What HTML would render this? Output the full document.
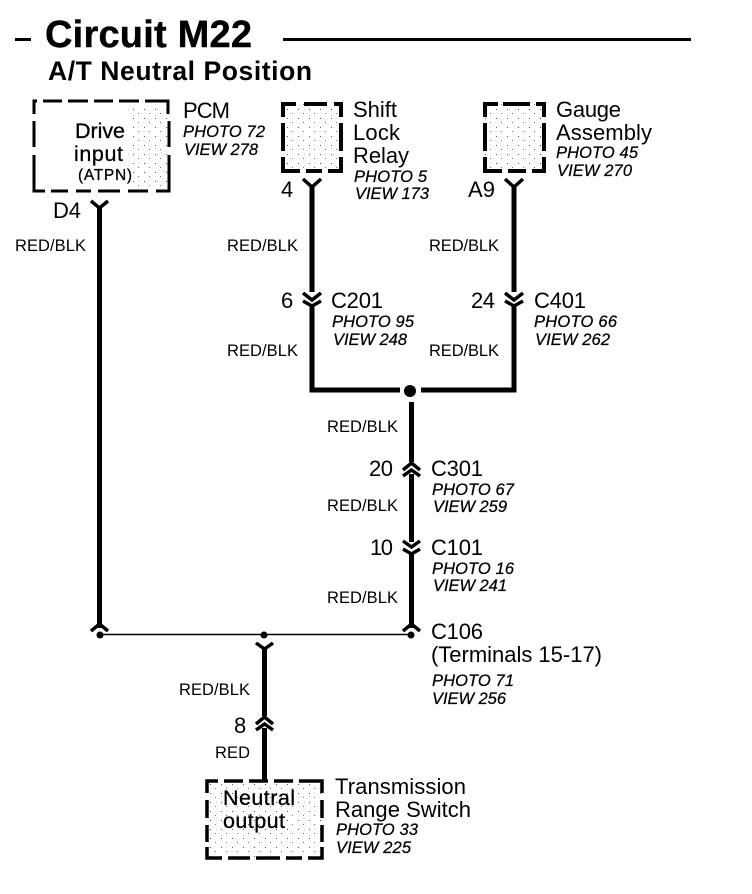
<!DOCTYPE html>
<html>
<head>
<meta charset="utf-8">
<style>
html,body{margin:0;padding:0;background:#fff}
svg{display:block}
text{font-family:"Liberation Sans",sans-serif;fill:#000}
.l{font-size:22px}
.i{font-size:16.5px;font-style:italic;stroke:#000;stroke-width:.25px}
.w{font-size:16.5px}
.s{font-size:21.5px;stroke:#000;stroke-width:.3px}
</style>
</head>
<body>
<svg width="752" height="894" viewBox="0 0 752 894" xmlns="http://www.w3.org/2000/svg">
<defs>
<pattern id="st" width="11" height="9" patternUnits="userSpaceOnUse">
<rect width="1" height="1" x="1" y="1" fill="#555"/>
<rect width="1" height="1" x="6" y="5" fill="#777"/>
</pattern>
</defs>

<!-- Title -->
<rect x="15" y="38" width="16" height="3"/>
<rect x="283" y="38" width="408" height="3"/>
<text x="45" y="47" font-size="38" font-weight="bold" textLength="207" stroke="#000" stroke-width=".4">Circuit M22</text>
<text x="48" y="80" font-size="26.5" font-weight="bold" textLength="264">A/T Neutral Position</text>

<!-- Boxes -->
<rect x="130" y="105" width="39" height="85" fill="url(#st)"/>
<path d="M34 114V101H37M43 101H62M68 101H88M94 101H113M119 101H139M145 101H168V114M34 121V147M169 121V147M34 155V191H45M51 191H68M76 191H91M98 191H120M128 191H148M156 191H169V155" fill="none" stroke="#000" stroke-width="3"/>
<rect x="283" y="104" width="58" height="67" fill="url(#st)"/>
<path d="M283 117V104H296M304 104H327M334 104H341V117M283 123V151M341 123V151M283 157V171H300M306 171H322M328 171H341V157" fill="none" stroke="#000" stroke-width="4"/>
<rect x="485" y="104" width="59" height="67" fill="url(#st)"/>
<path d="M485 117V104H498M503 104H530M536 104H544V117M485 123V151M544 123V151M485 157V171H502M508 171H526M532 171H544V157" fill="none" stroke="#000" stroke-width="4"/>
<rect x="207" y="781" width="115" height="77" fill="url(#st)"/>
<path d="M207 793V781H218M224 781H243M249 781H268M274 781H293M299 781H322V793M207 800V818M322 800V818M207 825V842M322 825V842M207 847V858H222M228 858H250M256 858H280M286 858H302M308 858H322V847" fill="none" stroke="#000" stroke-width="3.500"/>

<!-- Wires -->
<g fill="none" stroke="#000" stroke-linejoin="miter">
<path d="M99.500 206V628" stroke-width="5"/>
<path d="M312 186V292M312 304V390H400M421 390H514V304M514 292V186" stroke-width="5"/>
<path d="M411.500 402V462M411.500 474V542M411.500 553V628" stroke-width="5"/>
<path d="M264.500 648V716M264.500 728V782" stroke-width="5"/>
<path d="M99 634.500H411" stroke-width="1.600"/>
</g>
<circle cx="410" cy="391" r="6"/>
<circle cx="100" cy="635" r="3.500"/>
<circle cx="264" cy="635" r="3.500"/>
<circle cx="411" cy="635" r="3.500"/>

<!-- Connector chevrons -->
<g fill="none" stroke="#000" stroke-width="3.500">
<path d="M91 201L99.500 208L108 201"/>
<path d="M303 179L312 187L321 179"/>
<path d="M505 179L514 187L523 179"/>
<path d="M303 293L312 300L321 293"/>
<path d="M303 301L312 306L321 301"/>
<path d="M505 293L514 300L523 293"/>
<path d="M505 301L514 306L523 301"/>
<path d="M403 470L411.500 463L420 470"/>
<path d="M403 476L411.500 470L420 476"/>
<path d="M403 541L411.500 547L420 541"/>
<path d="M403 549L411.500 554L420 549"/>
<path d="M91 631L99.500 624L108 631"/>
<path d="M403 631L411.500 624L420 631"/>
<path d="M256 643L264.500 649L273 643"/>
<path d="M256 724L264.500 717L273 724"/>
<path d="M256 730L264.500 724L273 730"/>
</g>

<!-- Box labels -->
<text class="s" x="75" y="138" textLength="50">Drive</text>
<text class="s" x="74" y="161" textLength="49">input</text>
<text x="78" y="180" font-size="15.500" stroke="#000" stroke-width=".3" textLength="54">(ATPN)</text>
<text class="s" x="223" y="805" textLength="72">Neutral</text>
<text class="s" x="223" y="828" textLength="62">output</text>

<!-- Component names -->
<text class="l" x="183" y="118" textLength="47">PCM</text>
<text class="i" x="183" y="137" textLength="82">PHOTO 72</text>
<text class="i" x="184" y="155" textLength="74">VIEW 278</text>

<text class="l" x="353" y="117" textLength="44">Shift</text>
<text class="l" x="353" y="140" textLength="47">Lock</text>
<text class="l" x="353" y="163" textLength="56">Relay</text>
<text class="i" x="354" y="182" textLength="73">PHOTO 5</text>
<text class="i" x="355" y="199" textLength="74">VIEW 173</text>

<text class="l" x="556" y="117" textLength="65">Gauge</text>
<text class="l" x="556" y="140" textLength="96">Assembly</text>
<text class="i" x="556" y="158" textLength="82">PHOTO 45</text>
<text class="i" x="557" y="176" textLength="75">VIEW 270</text>

<text class="l" x="331" y="308" textLength="52">C201</text>
<text class="i" x="332" y="327" textLength="82">PHOTO 95</text>
<text class="i" x="333" y="345" textLength="74">VIEW 248</text>

<text class="l" x="534" y="308" textLength="52">C401</text>
<text class="i" x="534" y="327" textLength="83">PHOTO 66</text>
<text class="i" x="535" y="345" textLength="75">VIEW 262</text>

<text class="l" x="431" y="476" textLength="52">C301</text>
<text class="i" x="432" y="495" textLength="82">PHOTO 67</text>
<text class="i" x="433" y="512" textLength="74">VIEW 259</text>

<text class="l" x="431" y="555" textLength="52">C101</text>
<text class="i" x="432" y="574" textLength="82">PHOTO 16</text>
<text class="i" x="433" y="591" textLength="74">VIEW 241</text>

<text class="l" x="431" y="639" textLength="52">C106</text>
<text class="l" x="431" y="662" textLength="171">(Terminals 15-17)</text>
<text class="i" x="432" y="686" textLength="82">PHOTO 71</text>
<text class="i" x="432" y="704" textLength="74">VIEW 256</text>

<text class="l" x="335" y="794" textLength="131">Transmission</text>
<text class="l" x="335" y="817" textLength="136">Range Switch</text>
<text class="i" x="336" y="835" textLength="82">PHOTO 33</text>
<text class="i" x="336" y="853" textLength="75">VIEW 225</text>

<!-- Pin numbers -->
<text class="l" x="53" y="218" textLength="28">D4</text>
<text class="l" x="281" y="197" textLength="12">4</text>
<text class="l" x="468" y="197" textLength="27">A9</text>
<text class="l" x="281" y="308" textLength="12">6</text>
<text class="l" x="471" y="308" textLength="24">24</text>
<text class="l" x="369" y="476" textLength="24">20</text>
<text class="l" x="370" y="555" textLength="23">10</text>
<text class="l" x="234" y="733" textLength="12">8</text>

<!-- Wire colours -->
<text class="w" x="15" y="251" textLength="71">RED/BLK</text>
<text class="w" x="227" y="251" textLength="71">RED/BLK</text>
<text class="w" x="429" y="251" textLength="70">RED/BLK</text>
<text class="w" x="227" y="356" textLength="71">RED/BLK</text>
<text class="w" x="429" y="356" textLength="70">RED/BLK</text>
<text class="w" x="327" y="432" textLength="71">RED/BLK</text>
<text class="w" x="327" y="511" textLength="71">RED/BLK</text>
<text class="w" x="327" y="603" textLength="71">RED/BLK</text>
<text class="w" x="179" y="695" textLength="71">RED/BLK</text>
<text class="w" x="215" y="758" textLength="35">RED</text>
</svg>
</body>
</html>
